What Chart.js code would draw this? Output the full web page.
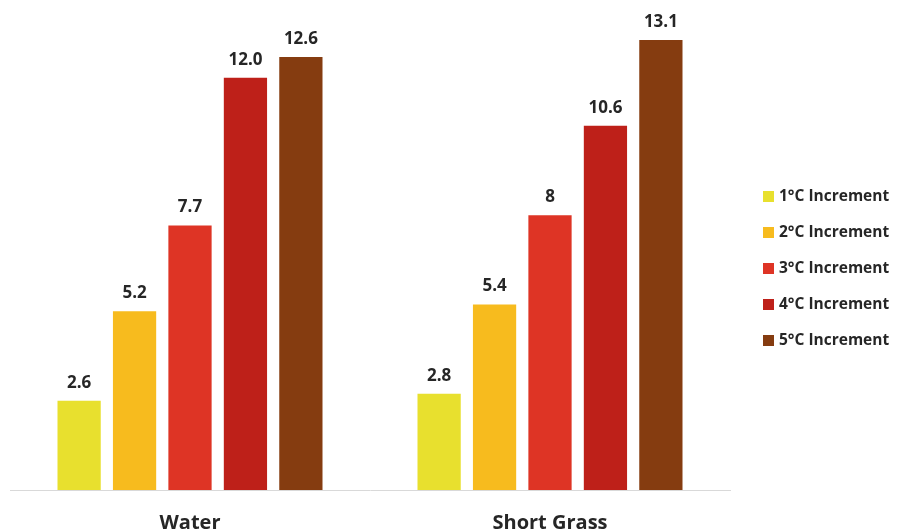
<!DOCTYPE html>
<html>
<head>
<meta charset="utf-8">
<script src="https://cdn.jsdelivr.net/npm/chart.js@4"></script>
<style>
  html, body { margin: 0; padding: 0; background: #fff; }
  #wrap { width: 898px; height: 532px; }
</style>
</head>
<body>
<div id="wrap"><canvas id="grafico" width="898" height="532"></canvas></div>
<script>
// dados
const categorias = ['Water', 'Short Grass'];
const nomesSeries = ['1°C Increment', '2°C Increment', '3°C Increment', '4°C Increment', '5°C Increment'];
const inc1 = [2.6, 2.8];
const inc2 = [5.2, 5.4];
const inc3 = [7.7, 8];
const inc4 = [12.0, 10.6];
const inc5 = [12.6, 13.1];
const textosRotulo = [['2.6', '2.8'], ['5.2', '5.4'], ['7.7', '8'], ['12.0', '10.6'], ['12.6', '13.1']];
const cores = ['#e8e02e', '#f7bb1e', '#de3425', '#be2019', '#853c10'];

const FONTE = '"Open Sans", "Noto Sans", sans-serif';
const COR_TEXTO = '#262626';

// rótulos em cima das barras
const pluginRotulos = {
    id: 'rotulos',
    afterDatasetsDraw(chart) {
        const ctx = chart.ctx;
        ctx.save();
        ctx.font = `bold 17px ${FONTE}`;
        ctx.fillStyle = COR_TEXTO;
        ctx.textAlign = 'center';
        ctx.textBaseline = 'alphabetic';
        chart.data.datasets.forEach((ds, i) => {
            chart.getDatasetMeta(i).data.forEach((barra, j) => {
                ctx.fillText(textosRotulo[i][j], barra.x, barra.y - 13);
            });
        });
        ctx.restore();
    }
};

// legenda à direita
const pluginLegenda = {
    id: 'legendaDireita',
    afterDraw(chart) {
        const ctx = chart.ctx;
        const x = chart.chartArea.right + 33;
        let y = 196.5;
        ctx.save();
        ctx.font = `bold 15.5px ${FONTE}`;
        ctx.textBaseline = 'middle';
        ctx.textAlign = 'left';
        chart.data.datasets.forEach(ds => {
            ctx.fillStyle = ds.backgroundColor;
            ctx.fillRect(x, y - 5.5, 11, 11);
            ctx.fillStyle = COR_TEXTO;
            ctx.fillText(ds.label, x + 16, y + 0.5);
            y += 36;
        });
        ctx.restore();
    }
};

const series = [inc1, inc2, inc3, inc4, inc5];

new Chart(document.getElementById('grafico').getContext('2d'), {
    type: 'bar',
    data: {
        labels: categorias,
        datasets: series.map((valores, i) => ({
            label: nomesSeries[i],
            data: valores,
            backgroundColor: cores[i],
            borderWidth: 0,
            categoryPercentage: 0.77,
            barPercentage: 0.78
        }))
    },
    options: {
        responsive: false,
        animation: false,
        layout: { padding: { left: 10, right: 168, top: 9, bottom: 0 } },
        plugins: { legend: { display: false }, tooltip: { enabled: false } },
        scales: {
            x: {
                grid: { display: false, drawTicks: false },
                border: { display: true, color: '#d9d9d9', width: 1 },
                ticks: { padding: 21, maxRotation: 0, color: COR_TEXTO, font: { family: FONTE, size: 20, weight: 'bold' } },
                afterFit(escala) { escala.height = 42; }
            },
            y: { display: false, min: 0, max: 14 }
        }
    },
    plugins: [pluginRotulos, pluginLegenda]
});
</script>
</body>
</html>
